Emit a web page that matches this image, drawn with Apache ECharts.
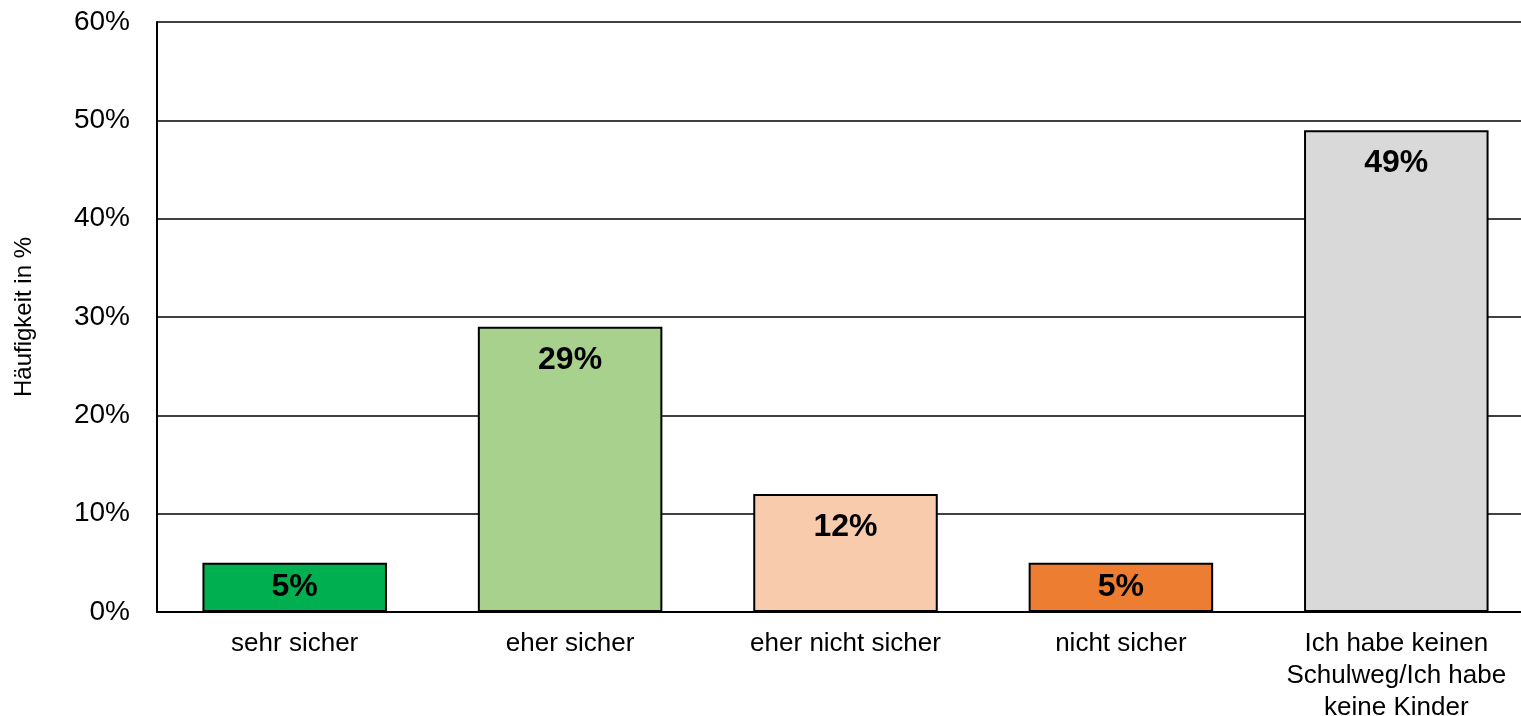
<!DOCTYPE html>
<html>
<head>
<meta charset="utf-8">
<script src="https://cdn.jsdelivr.net/npm/echarts@6/dist/echarts.min.js"></script>
<style>
html,body{margin:0;padding:0;background:#fff;overflow:hidden;}
#chart{width:1521px;height:716px;}
</style>
</head>
<body>
<div id="chart"></div>
<script>
var categories = ['sehr sicher', 'eher sicher', 'eher nicht sicher', 'nicht sicher', 'Ich habe keinen\nSchulweg/Ich habe\nkeine Kinder'];
var values = [5, 29, 12, 5, 49];
var colors = ['#00B050', '#A9D18E', '#F8CBAD', '#ED7D31', '#D9D9D9'];
var yTicks = [0, 10, 20, 30, 40, 50, 60];

var chart = echarts.init(document.getElementById('chart'), null, {renderer: 'canvas'});
var font = 'Liberation Sans, Arial, sans-serif';
chart.setOption({
  animation: false,
  textStyle: {fontFamily: font},
  grid: {left: 157, right: -13, top: 22, bottom: 104, containLabel: false, outerBoundsMode: 'none'},
  xAxis: {
    type: 'category',
    data: categories,
    axisLine: {lineStyle: {color: '#000', width: 2}},
    axisTick: {show: false},
    axisLabel: {color: '#000', fontSize: 26, fontFamily: font, margin: 16, lineHeight: 32, interval: 0}
  },
  yAxis: {
    type: 'value',
    min: yTicks[0],
    max: yTicks[yTicks.length - 1],
    interval: 10,
    name: 'Häufigkeit in %',
    nameLocation: 'middle',
    nameGap: 121,
    nameTextStyle: {color: '#000', fontSize: 24, fontFamily: font},
    axisLine: {show: true, lineStyle: {color: '#000', width: 2}},
    axisTick: {show: false},
    axisLabel: {color: '#000', fontSize: 28, fontFamily: font, margin: 27, formatter: '{value}%'},
    splitLine: {lineStyle: {color: '#000', width: 1.5}}
  },
  series: [{
    type: 'bar',
    data: values.map(function (v, i) {
      var item = {value: v, itemStyle: {color: colors[i]}};
      if (v < 8) { item.label = {position: 'inside'}; }
      return item;
    }),
    barCategoryGap: '33%',
    itemStyle: {borderColor: '#000', borderWidth: 2},
    label: {
      show: true,
      position: 'insideTop',
      distance: 17,
      formatter: '{c}%',
      color: '#000',
      fontWeight: 'bold',
      fontSize: 32,
      fontFamily: font
    }
  }]
});
</script>
</body>
</html>
